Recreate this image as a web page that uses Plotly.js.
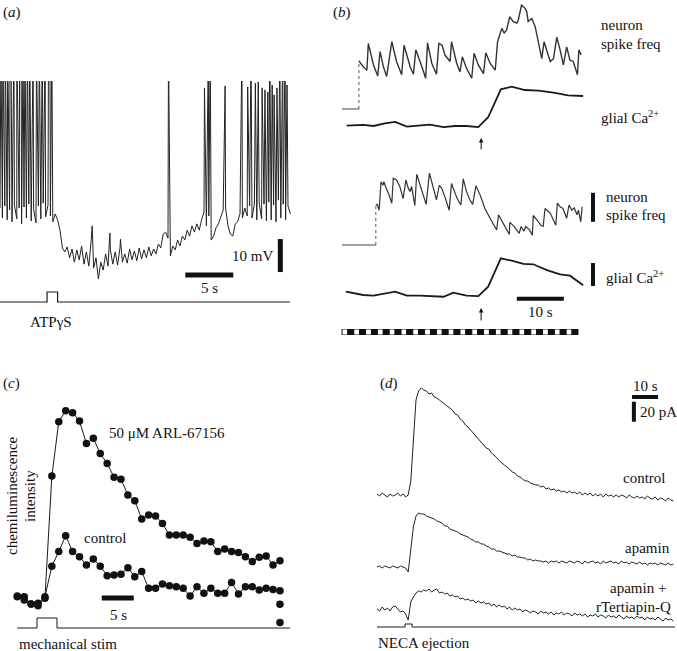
<!DOCTYPE html>
<html><head><meta charset="utf-8">
<script src="https://cdn.plot.ly/plotly-3.0.1.min.js"></script>
<style>html,body{margin:0;padding:0;background:#fff}#chart{width:677px;height:651px}</style>
</head><body><div id="chart"></div>
<script>
// ---------- DATA ----------
// (a) membrane potential (mV), sampled every 0.25 s
const aDt = 0.25;
const aVm = [-48.8,-51.8,-48.2,-52.4,-49.4,-53.0,-47.9,-52.1,-48.8,-53.6,-48.5,-51.8,-47.6,-52.7,-49.1,-53.3,-48.2,-52.1,-47.3,-51.5,
 -47.9,-51.2,-53.0,-50.6,-52.4,-55.5,-60.9,-62.1,-60.6,-63.9,-61.2,-65.2,-61.5,-64.5,-60.3,-65.8,-62.1,-66.4,-58.5,-67.0,
 -63.9,-70.3,-65.2,-67.6,-62.7,-66.4,-61.5,-65.8,-62.1,-66.1,-60.9,-65.2,-62.7,-65.5,-61.2,-64.5,-61.8,-64.8,-60.9,-64.2,
 -61.5,-63.9,-60.6,-63.3,-61.2,-62.7,-59.7,-60.9,-56.7,-56.1,-57.9,-63.3,-60.3,-61.5,-58.5,-60.3,-57.3,-58.5,-55.5,-57.3,
 -54.2,-56.1,-53.6,-55.5,-52.4,-50.0,-54.2,-51.2,-58.5,-57.3,-54.8,-53.6,-51.8,-49.4,-48.8,-54.2,-56.7,-57.3,-53.6,-53.0,
 -50.6,-51.8,-48.8,-51.2,-48.2,-51.8,-47.6,-52.4,-47.3,-52.1,-47.6,-52.7,-47.0,-52.4,-47.9,-53.0,-46.4,-51.8,-47.6,-52.4,
 -48.2,-50.6];
const aSpikeT = [0.1,0.3,0.55,0.8,1.05,1.15,1.45,1.75,2.05,2.2,2.4,2.6,2.85,3.1,3.45,3.8,4.1,4.4,4.7,5.05,5.2,5.4,
 9.6,11.45,12.55,
 17.55,21.3,21.7,21.9,23.45,25.2,25.8,26.15,26.6,26.9,27.3,27.6,27.9,28.1,28.35,28.55,28.85,29.15,29.45,29.7,29.9];
const aSpikeV = [0,0,0,0,0,0,0,0,0,0,0,0,0,0,0,0,0,0,0,0,0,0,
 -54.2,-56.4,-58.2,
 0,-12.4,0,0,-11.8,0,-12.1,0,-11,-10.6,-12.4,-13.0,-13.6,0,-11.5,-14.5,-12.4,0,0,0,-11.5];
const atpOn = 4.9, atpOff = 6.0, aEnd = 30.2;

// (b) neuron spike frequency (Hz) and glial Ca2+ (%)
const bTopStart = 3.6;
const bTopT = [3.6,4.5,5.3,5.6,6.7,7.6,8.1,8.8,9.5,10.6,11.6,12.7,13.2,14.5,15.2,15.7,17.0,17.8,18.2,19.1,20.1,20.6,21.3,21.9,23.0,
 23.3,24.4,25.1,25.6,26.5,27.6,28.1,29.0,30.1,30.6,31.5,32.6,33.1,34.0,34.5,35.0,35.7,36.4,37.2,37.5,38.2,38.9,39.3,39.6,40.4,
 41.1,42.5,43.0,43.6,44.3,45.0,45.7,46.4,47.1,47.8,48.5,49.2,50.1,50.4,50.9];
const bTopF = [8.3,7.3,6.7,11.3,7.6,5.7,9.9,7.3,5.6,11.6,8.2,5.9,11.0,7.3,6.0,10.2,7.3,5.3,11.4,7.9,6.0,11.3,11.0,9.3,8.2,
 11.6,7.9,6.4,9.0,7.0,5.3,9.6,7.6,6.1,9.7,7.9,6.7,11.6,13.9,13.1,13.6,15.9,15.1,14.8,15.3,17.9,17.4,16.8,15.1,15.6,
 14.2,8.7,11.6,10.2,8.2,8.7,12.4,10.2,7.6,10.7,8.4,8.2,5.9,10.2,9.3];
const bLowStart = 7.2;
const bLowT = [7.2,7.5,7.9,8.3,8.7,8.9,9.4,9.9,10.6,10.9,11.6,12.3,13.0,13.6,14.1,14.5,14.8,15.5,15.9,17.0,17.9,18.6,19.4,20.1,20.7,
 21.2,21.9,22.8,23.3,24.0,24.5,25.3,25.8,26.5,27.2,27.8,28.5,29.4,30.4,31.5,32.9,33.3,34.3,35.6,35.7,36.6,37.7,38.1,38.4,38.7,
 39.1,39.9,40.5,40.7,41.8,42.3,42.8,43.2,44.3,45.5,45.8,46.4,47.0,47.4,47.8,48.3,48.9,49.4,50.0,50.3,50.8,51.1];
const bLowF = [6.9,7.0,6.0,10.9,10.3,10.9,9.8,8.9,7.2,11.5,11.2,10.1,8.0,11.2,9.8,9.2,10.1,6.8,12.2,9.5,7.0,12.4,9.8,7.8,10.3,
 9.8,8.3,6.0,10.6,8.9,8.0,6.9,11.4,9.2,7.8,7.0,10.2,8.6,6.3,4.6,2.6,5.2,3.7,1.8,3.9,3.2,2.0,3.2,2.8,2.4,
 3.2,2.6,1.7,5.1,4.0,3.4,3.2,6.3,5.5,3.4,7.2,6.6,6.3,5.5,4.6,6.9,6.0,6.4,5.2,6.0,4.0,6.6];
const caTopT = [1.0,4.5,6.7,9.1,11.3,13.8,16.2,18.7,21.6,24.0,26.5,29.0,31.1,33.8,36.1,38.9,41.8,45.0,48.1,51.3];
const caTopV = [0.3,0.9,0,2.3,3.5,-0.6,0.3,1.2,-0.9,0,0,-0.9,7.6,31.9,34.2,31.3,30.7,29.0,26.7,26.1];
const caLowT = [0.8,4.5,6.7,9.1,11.3,13.8,16.6,21.6,23.7,26.5,29.0,31.1,33.8,36.1,38.6,40.7,43.6,46.4,48.5,51.3];
const caLowV = [2.9,0,-0.6,0.9,2.9,-0.6,-0.6,-1.5,2.0,-0.6,-0.9,7.2,31.9,29.8,27.0,26.7,21.7,18.0,16.8,8.4];
const bArrowT = 29.6;
const flashCount = 40, flashDur = 1.255;

// (c) chemiluminescence intensity (a.u.), one sample every 1.08 s
const cDt = 1.08;
const cARL = [5.1,3.4,1.4,0.5,4.3,66.7,94.4,100,99,94.7,83.3,85.9,78.2,73.1,66,65,57,54.1,44.7,46.8,46.3,42.5,36.6,36.6,36.6,
 35.4,32.3,33.5,33.2,28.1,29.4,28.1,27.7,25.5,23,25.2,25.9,21.3,23.5];
const cControl = [5.4,5.1,1.4,1.7,5.1,20.7,28.1,36.2,28.1,25.5,21.3,24.3,20.7,15.8,16.2,16.5,19.9,15.3,17.9,9.4,9.4,11.6,10.7,10.2,9.4,
 5.4,10.2,6.8,9.4,6.8,6.8,12.4,6.5,10.2,10.2,8.5,9.4,8.8,8.2];
const cExtraIdx = 38, cExtra = [1.2,-8];
const mechOn = 3.08, mechOff = 6.2, cEnd = 42.6;

// (d) currents (pA), one sample per second
const dControl = [1,-1,2,0,-2,1,-1,0,2,-1,1,-2,0,14,55,95,104,107,105,104,101,102,98,97,95,93,91,89,87,85,
 81,80,76,74,70,68,65,62,59,57,53,51,47,46,42,40,37,35,32,30,28,26,23,22,19,18,16,14,14,12,
 11,10,10,8,9,6,7,5,6,4,5,3,4,2,4,2,3,1,3,0,2,0,2,-1,1,-1,1,-2,1,-1,
 0,-2,0,-2,0,-1,-3,0,-2,-3,-1,-3,-2,-4,-1,-3,-4,-2,-5,-3,-4,-6,-3,-5,-6];
const dApamin = [0,1,-1,1,0,-1,1,0,-1,1,0,-1,-5,20,40,51,54,53,53,51,50,49,48,46,45,44,41,41,38,37,
 36,35,33,32,31,30,28,27,25,25,23,23,21,20,18,18,16,16,15,14,13,13,11,12,10,10,9,9,7,8,
 6,7,6,6,5,6,4,6,5,6,4,6,5,4,6,5,4,6,5,3,6,4,5,6,4,5,3,6,4,5,
 6,4,5,3,6,4,5,3,5,4,3,5,3,4,2,4,3,4,2,4,3,2,4,2,3];
const dTertiapin = [0,-2,2,-1,1,-2,2,3,0,-3,-2,-5,-11,7,12,16,18,17,19,18,20,17,19,20,16,17,15,16,13,14,
 12,13,10,11,9,10,8,9,6,8,6,7,5,6,3,5,2,4,2,3,0,2,-1,1,-1,0,-3,-1,-2,-4,
 -2,-3,-5,-2,-4,-3,-5,-3,-6,-4,-5,-3,-6,-4,-5,-7,-4,-6,-5,-7,-5,-8,-6,-7,-5,-8,-6,-7,-9,-6,
 -8,-7,-9,-6,-8,-10,-7,-9,-8,-10,-7,-9,-8,-11,-8,-10,-9,-11,-8,-10,-12,-9,-11,-10,-12];
const necaOn = 10.8, necaOff = 13.5, dEnd = 114.6;

// ---------- LAYOUT HELPERS ----------
const W = 677, H = 651;
const P = px => px / W, Q = py => 1 - py / H;
function xAx(pxL, pxR, pxRef, vRef, k, anchor) {
  return {domain: [P(pxL), P(pxR)], range: [vRef + (pxL - pxRef) / k, vRef + (pxR - pxRef) / k],
    visible: false, fixedrange: true, anchor: anchor};
}
function yAx(pyT, pyB, pyRef, vRef, k, anchor) {
  return {domain: [Q(pyB), Q(pyT)], range: [vRef - (pyB - pyRef) / k, vRef + (pyRef - pyT) / k],
    visible: false, fixedrange: true, anchor: anchor};
}
const K = '#1a1a1a';
const line = (x, y, xa, ya, w, c, dash) => ({type: 'scatter', mode: 'lines', x: x, y: y, xaxis: xa, yaxis: ya,
  line: {color: c || K, width: w || 1, dash: dash || 'solid'}, hoverinfo: 'skip'});
const pulse = (on, off, end) => ({x: [0, on, on, off, off, end], y: [0, 0, 1, 1, 0, 0]});

// ---------- TRACES ----------
const traces = [];
// (a)
const aPts = aVm.map((v, i) => [i * aDt, v]).concat(aSpikeT.map((t, j) => [t, aSpikeV[j]])).sort((p, q) => p[0] - q[0]);
traces.push(line(aPts.map(p => p[0]), aPts.map(p => p[1]), 'x', 'y', 1, '#222'));
const pa = pulse(atpOn, atpOff, aEnd);
traces.push(line(pa.x, pa.y, 'x', 'y2', 1.2));
// (b)
traces.push(line([0, bTopStart], [0, 0], 'x2', 'y3', 1, '#444'));
traces.push(line([bTopStart, bTopStart], [0, bTopF[0]], 'x2', 'y3', 1, '#555', 'dot'));
traces.push(line(bTopT, bTopF, 'x2', 'y3', 1.4, '#333'));
traces.push(line(caTopT, caTopV, 'x2', 'y4', 1.8, K));
traces.push(line([0, bLowStart], [0, 0], 'x2', 'y5', 1, '#444'));
traces.push(line([bLowStart, bLowStart], [0, bLowF[0]], 'x2', 'y5', 1, '#555', 'dot'));
traces.push(line(bLowT, bLowF, 'x2', 'y5', 1.2, '#333'));
traces.push(line(caLowT, caLowV, 'x2', 'y6', 1.8, K));
const flashX = [], flashC = [];
for (let k = 0; k < flashCount; k++) { flashX.push((k + 0.5) * flashDur); flashC.push(k % 2 ? '#111' : '#fff'); }
traces.push({type: 'bar', x: flashX, y: flashX.map(() => 1), width: flashDur, xaxis: 'x2', yaxis: 'y13',
  marker: {color: flashC, line: {color: '#111', width: 1}}, hoverinfo: 'skip'});
// (c)
const cT = cARL.map((_, i) => i * cDt);
const dots = (x, y) => ({type: 'scatter', mode: 'lines+markers', x: x, y: y, xaxis: 'x3', yaxis: 'y7', cliponaxis: false,
  line: {color: K, width: 1}, marker: {color: '#111', size: 7.5}, hoverinfo: 'skip'});
traces.push(dots(cT, cARL));
traces.push(dots(cT, cControl));
traces.push({type: 'scatter', mode: 'markers', x: cExtra.map(() => cExtraIdx * cDt), y: cExtra, xaxis: 'x3', yaxis: 'y7',
  cliponaxis: false, marker: {color: '#111', size: 7.5}, hoverinfo: 'skip'});
const pc = pulse(mechOn, mechOff, cEnd);
traces.push(line(pc.x, pc.y, 'x3', 'y8', 1));
// (d)
const dT = dControl.map((_, i) => i);
traces.push(line(dT, dControl, 'x4', 'y9', 1, '#222'));
traces.push(line(dT, dApamin, 'x4', 'y10', 1, '#222'));
traces.push(line(dT, dTertiapin, 'x4', 'y11', 1, '#222'));
const pd = pulse(necaOn, necaOff, dEnd);
traces.push(line(pd.x, pd.y, 'x4', 'y12', 1));

// ---------- LAYOUT ----------
const layout = {
  width: W, height: H, margin: {l: 0, r: 0, t: 0, b: 0}, paper_bgcolor: '#fff', plot_bgcolor: 'rgba(0,0,0,0)',
  showlegend: false, bargap: 0,
  font: {family: 'Liberation Serif, Times New Roman, serif', size: 15, color: '#111'},
  xaxis: xAx(0, 300, 0, 0, 9.6, 'y'),
  yaxis: yAx(81, 300, 212, -50, 3.3, 'x'),
  yaxis2: yAx(285, 312, 302, 0, 10, 'x'),
  xaxis2: xAx(335, 600, 342, 0, 4.7, 'y3'),
  yaxis3: yAx(0, 115, 109, 0, 5.8, 'x2'),
  yaxis4: yAx(80, 160, 126, 0, 1.15, 'x2'),
  yaxis5: yAx(165, 250, 245, 0, 5.8, 'x2'),
  yaxis6: yAx(250, 325, 295, 0, 1.15, 'x2'),
  yaxis13: yAx(329, 335, 335, 0, 6, 'x2'),
  xaxis3: xAx(5, 300, 17.3, 0, 6.4, 'y7'),
  yaxis7: yAx(395, 640, 606.7, 0, 1.96, 'x3'),
  yaxis8: yAx(610, 640, 628, 0, 10, 'x3'),
  xaxis4: xAx(370, 677, 377, 0, 2.6, 'y9'),
  yaxis9: yAx(380, 505, 495, 0, 1, 'x4'),
  yaxis10: yAx(505, 580, 567, 0, 1, 'x4'),
  yaxis11: yAx(580, 622, 609, 0, 1, 'x4'),
  yaxis12: yAx(620, 635, 627, 0, 3, 'x4'),
  shapes: [
    // (a) scale bars: 5 s and 10 mV
    {type: 'line', xref: 'x', yref: 'y', x0: 19.3, x1: 24.3, y0: -69.1, y1: -69.1, line: {color: '#111', width: 5}},
    {type: 'line', xref: 'x', yref: 'y', x0: 29.2, x1: 29.2, y0: -58.2, y1: -68.2, line: {color: '#111', width: 5}},
    // (b) scale bars: 5 Hz, 20 %, 10 s
    {type: 'line', xref: 'x2', yref: 'y5', x0: 53.4, x1: 53.4, y0: 4, y1: 9, line: {color: '#111', width: 4}},
    {type: 'line', xref: 'x2', yref: 'y6', x0: 53.4, x1: 53.4, y0: 7.8, y1: 27.8, line: {color: '#111', width: 4}},
    {type: 'line', xref: 'x2', yref: 'y6', x0: 37.2, x1: 47.2, y0: -3.2, y1: -3.2, line: {color: '#111', width: 4}},
    // (c) scale bar 5 s
    {type: 'line', xref: 'x3', yref: 'y7', x0: 13.2, x1: 18.2, y0: 4.4, y1: 4.4, line: {color: '#111', width: 5}},
    // (d) scale bars 10 s and 20 pA
    {type: 'line', xref: 'x4', yref: 'y9', x0: 98.1, x1: 108.1, y0: 98, y1: 98, line: {color: '#111', width: 4}},
    {type: 'line', xref: 'x4', yref: 'y9', x0: 98.8, x1: 98.8, y0: 73.3, y1: 93.3, line: {color: '#111', width: 4}}
  ],
  annotations: []
};
const txt = (s, px, py, anchor, extra) => Object.assign({text: s, xref: 'paper', yref: 'paper', x: P(px), y: Q(py),
  xanchor: anchor || 'left', yanchor: 'middle', showarrow: false, borderpad: 0}, extra || {});
layout.annotations.push(
  txt('(<i>a</i>)', 2, 13), txt('10 mV', 274, 256, 'right'), txt('5 s', 209, 288, 'center'), txt('ATPγS', 51, 322, 'center'),
  txt('(<i>b</i>)', 332, 13),
  txt('neuron', 600, 25), txt('spike freq', 600, 44), txt('glial Ca<sup>2+</sup>', 600, 117),
  txt('neuron', 605, 197), txt('spike freq', 605, 215), txt('glial Ca<sup>2+</sup>', 605, 277), txt('10 s', 540, 312, 'center'),
  txt('(<i>c</i>)', 2, 383), txt('50 μM ARL-67156', 108, 433), txt('control', 83, 538), txt('5 s', 118, 615, 'center'),
  txt('mechanical stim', 18, 644),
  txt('chemiluminescence', 12, 496, 'center', {textangle: -90}), txt('intensity', 30, 496, 'center', {textangle: -90}),
  txt('(<i>d</i>)', 379, 383), txt('10 s', 645, 386, 'center'), txt('20 pA', 639, 412),
  txt('control', 667, 478, 'right'), txt('apamin', 671, 548, 'right'), txt('apamin +', 667, 588, 'right'),
  txt('rTertiapin-Q', 672, 607, 'right'), txt('NECA ejection', 377, 643)
);
[[138, 13], [308, 14]].forEach(a => layout.annotations.push({text: '', xref: 'x2', yref: 'paper', x: bArrowT, y: Q(a[0]),
  showarrow: true, ax: 0, ay: a[1], arrowhead: 2, arrowsize: 0.9, arrowwidth: 1, arrowcolor: '#111', standoff: 0}));

Plotly.newPlot('chart', traces, layout, {staticPlot: true, displayModeBar: false});
</script></body></html>
